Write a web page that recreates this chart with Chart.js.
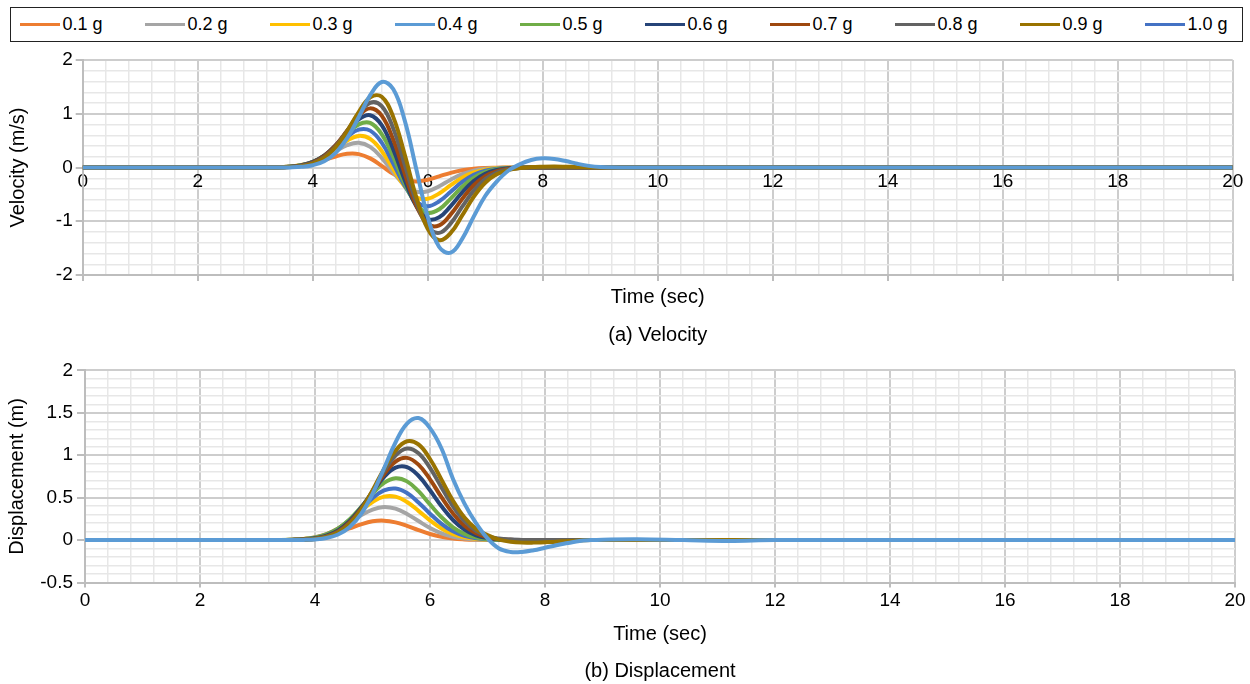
<!DOCTYPE html>
<html>
<head>
<meta charset="utf-8">
<title>Velocity and displacement</title>
<script src="https://cdn.jsdelivr.net/npm/chart.js@4.4.1/dist/chart.umd.min.js"></script>
<style>
    body { margin: 0; background: #fff; font-family: "Liberation Sans", Arial, sans-serif; }
    #page { position: relative; width: 1250px; height: 684px; overflow: hidden; }
    #legend { position: absolute; left: 10px; top: 7px; width: 1233px; height: 35px; border: 1.5px solid #222; box-sizing: border-box; }
    #legend .item { position: absolute; top: 0; height: 32px; display: flex; align-items: center; font-size: 18px; color: #000; white-space: nowrap; }
    #legend .line { display: inline-block; width: 40px; height: 3px; margin-right: 3px; }
    #velBox { position: absolute; left: 0; top: 45px; width: 1250px; height: 305px; }
    #dispBox { position: absolute; left: 0; top: 355px; width: 1250px; height: 329px; }
</style>
</head>
<body>
<div id="page">
    <div id="legend"></div>
    <div id="velBox"><canvas id="velChart"></canvas></div>
    <div id="dispBox"><canvas id="dispChart"></canvas></div>
</div>
<script>
// time axis shared by all series (sec)
const times = [0, 3.4, 3.6, 3.8, 4.0, 4.2, 4.4, 4.6, 4.8, 5.0, 5.2, 5.4, 5.6, 5.8, 6.0, 6.2, 6.4, 6.6, 6.8, 7.0,
    7.2, 7.4, 7.6, 7.8, 8.0, 8.2, 8.4, 8.6, 8.8, 9.0, 9.6, 10.4, 11.2, 12, 20];

const seriesLabels = ["0.1 g", "0.2 g", "0.3 g", "0.4 g", "0.5 g", "0.6 g", "0.7 g", "0.8 g", "0.9 g", "1.0 g"];
const seriesColors = ["#ED7D31", "#A5A5A5", "#FFC000", "#5B9BD5", "#70AD47", "#264478", "#9E480E", "#636363", "#997300", "#4472C4"];

// velocity (m/s)
const vel01 = [0, 0.005, 0.015, 0.037, 0.077, 0.137, 0.205, 0.254, 0.249, 0.170, 0.031, -0.119, -0.226, -0.260, -0.228, -0.164, -0.099, -0.051, -0.022, -0.008,
    -0.003, 0, 0, 0, 0, 0, 0, 0, 0, 0, 0, 0, 0, 0, 0];
const vel02 = [0, 0.006, 0.017, 0.044, 0.098, 0.188, 0.306, 0.416, 0.460, 0.383, 0.180, -0.088, -0.325, -0.448, -0.442, -0.348, -0.227, -0.125, -0.059, -0.024,
    -0.008, -0.003, 0, 0, 0, 0, 0, 0, 0, 0, 0, 0, 0, 0, 0];
const vel03 = [0, 0.005, 0.017, 0.045, 0.104, 0.208, 0.353, 0.503, 0.588, 0.533, 0.308, -0.026, -0.352, -0.552, -0.583, -0.483, -0.329, -0.189, -0.093, -0.039,
    -0.014, -0.005, 0, 0, 0, 0, 0, 0, 0, 0, 0, 0, 0, 0, 0];
const vel04 = [0, 0, 0.002, 0.012, 0.043, 0.116, 0.273, 0.547, 0.934, 1.345, 1.590, 1.461, 0.876, -0.022, -0.915, -1.479, -1.585, -1.327, -0.914, -0.530,
    -0.262, -0.060, 0.060, 0.140, 0.170, 0.160, 0.120, 0.070, 0.030, 0.010, 0, 0, 0, 0, 0];
const vel05 = [0, 0.004, 0.014, 0.041, 0.102, 0.219, 0.401, 0.623, 0.803, 0.830, 0.622, 0.201, -0.296, -0.683, -0.842, -0.776, -0.578, -0.360, -0.190, -0.086,
    -0.034, -0.011, -0.003, 0, 0, 0, 0, 0, 0, 0, 0, 0, 0, 0, 0];
const vel06 = [0, 0.004, 0.013, 0.039, 0.099, 0.220, 0.415, 0.667, 0.895, 0.972, 0.788, 0.341, -0.232, -0.717, -0.958, -0.927, -0.718, -0.462, -0.253, -0.118,
    -0.047, -0.016, -0.005, 0, 0, 0, 0, 0, 0, 0, 0, 0, 0, 0, 0];
const vel07 = [0, 0.003, 0.011, 0.035, 0.092, 0.210, 0.411, 0.687, 0.961, 1.100, 0.964, 0.520, -0.115, -0.705, -1.049, -1.076, -0.872, -0.585, -0.331, -0.160,
    -0.066, -0.024, -0.007, -0.002, 0, 0, 0, 0, 0, 0, 0, 0, 0, 0, 0];
const vel08 = [0, 0.003, 0.009, 0.030, 0.081, 0.192, 0.391, 0.681, 0.998, 1.205, 1.141, 0.728, 0.054, -0.637, -1.101, -1.216, -1.040, -0.729, -0.430, -0.216,
    -0.093, -0.035, -0.011, -0.003, 0, 0, 0, 0, 0, 0, 0, 0, 0, 0, 0];
const vel09 = [0, 0.002, 0.008, 0.026, 0.073, 0.178, 0.376, 0.677, 1.032, 1.306, 1.316, 0.942, 0.242, -0.547, -1.139, -1.354, -1.218, -0.891, -0.545, -0.283,
    -0.127, -0.049, -0.010, 0.008, 0.015, 0.018, 0.015, 0.010, 0.005, 0.002, 0, 0, 0, 0, 0];
const vel10 = [0, 0.005, 0.016, 0.043, 0.104, 0.217, 0.383, 0.571, 0.705, 0.686, 0.462, 0.075, -0.340, -0.631, -0.720, -0.629, -0.450, -0.269, -0.137, -0.060,
    -0.023, -0.007, -0.002, 0, 0, 0, 0, 0, 0, 0, 0, 0, 0, 0, 0];

// displacement (m)
const dsp01 = [0, 0.001, 0.004, 0.011, 0.025, 0.051, 0.089, 0.137, 0.186, 0.221, 0.229, 0.209, 0.167, 0.117, 0.072, 0.039, 0.018, 0.008, 0.003, 0.001,
    0, 0, 0, 0, 0, 0, 0, 0, 0, 0, 0, 0, 0, 0, 0];
const dsp02 = [0, 0.002, 0.005, 0.014, 0.034, 0.070, 0.129, 0.207, 0.292, 0.360, 0.390, 0.370, 0.308, 0.224, 0.143, 0.080, 0.040, 0.017, 0.006, 0.002,
    0, 0, 0, 0, 0, 0, 0, 0, 0, 0, 0, 0, 0, 0, 0];
const dsp03 = [0, 0.001, 0.005, 0.013, 0.032, 0.071, 0.137, 0.233, 0.345, 0.448, 0.512, 0.512, 0.448, 0.345, 0.233, 0.137, 0.071, 0.032, 0.013, 0.005,
    0.001, 0, 0, 0, 0, 0, 0, 0, 0, 0, 0, 0, 0, 0, 0];
const dsp04 = [0, 0, 0.001, 0.002, 0.008, 0.025, 0.066, 0.152, 0.306, 0.544, 0.844, 1.150, 1.373, 1.438, 1.320, 1.080, 0.720, 0.430, 0.200, 0.020,
    -0.100, -0.140, -0.140, -0.120, -0.090, -0.060, -0.035, -0.010, 0, 0.005, 0.010, 0, -0.010, 0, 0];
const dsp05 = [0, 0.001, 0.003, 0.010, 0.027, 0.063, 0.132, 0.242, 0.388, 0.547, 0.674, 0.729, 0.692, 0.576, 0.420, 0.269, 0.151, 0.074, 0.032, 0.012,
    0.004, 0.001, 0, 0, 0, 0, 0, 0, 0, 0, 0, 0, 0, 0, 0];
const dsp06 = [0, 0.001, 0.002, 0.007, 0.021, 0.052, 0.115, 0.223, 0.380, 0.567, 0.743, 0.853, 0.859, 0.758, 0.587, 0.398, 0.237, 0.124, 0.056, 0.023,
    0.008, 0.003, 0.001, 0, 0, 0, 0, 0, 0, 0, 0, 0, 0, 0, 0];
const dsp07 = [0, 0, 0.002, 0.006, 0.017, 0.044, 0.102, 0.207, 0.366, 0.568, 0.775, 0.925, 0.969, 0.889, 0.716, 0.505, 0.313, 0.169, 0.081, 0.034,
    0.012, 0.004, 0.001, 0, 0, 0, 0, 0, 0, 0, 0, 0, 0, 0, 0];
const dsp08 = [0, 0, 0.001, 0.005, 0.014, 0.039, 0.094, 0.195, 0.358, 0.574, 0.809, 0.997, 1.079, 1.024, 0.852, 0.621, 0.397, 0.223, 0.109, 0.047,
    0.018, 0.006, 0.002, 0, 0, 0, 0, 0, 0, 0, 0, 0, 0, 0, 0];
const dsp09 = [0, 0, 0.001, 0.004, 0.013, 0.037, 0.090, 0.191, 0.357, 0.585, 0.839, 1.055, 1.165, 1.128, 0.956, 0.712, 0.464, 0.265, 0.133, 0.058,
    0.005, -0.020, -0.030, -0.030, -0.025, -0.020, -0.010, -0.005, 0, 0, 0, 0, 0, 0, 0];
const dsp10 = [0, 0.001, 0.004, 0.011, 0.029, 0.067, 0.134, 0.236, 0.364, 0.493, 0.585, 0.608, 0.555, 0.444, 0.311, 0.191, 0.103, 0.049, 0.020, 0.007,
    0.002, 0, 0, 0, 0, 0, 0, 0, 0, 0, 0, 0, 0, 0, 0];

const velocity = [vel01, vel02, vel03, vel04, vel05, vel06, vel07, vel08, vel09, vel10];
const displacement = [dsp01, dsp02, dsp03, dsp04, dsp05, dsp06, dsp07, dsp08, dsp09, dsp10];

// which line sits on top (lower = drawn later)
const drawOrder = [9, 8, 7, 0, 5, 4, 3, 2, 1, 6];

const FONT = '"Liberation Sans", Arial, sans-serif';
Chart.defaults.font.family = FONT;
Chart.defaults.color = "#000";

const tickFont = { family: FONT, size: 19 };
const titleFont = { family: FONT, size: 20, weight: "normal" };
const axisBorder = { display: true, color: "#BDBDBD", width: 2 };

function isMultiple(v, step) {
    return Math.abs(v / step - Math.round(v / step)) < 1e-6;
}

// major lines darker, minor lines light
function gridOpts(step, tickLen) {
    const major = c => c.tick && isMultiple(c.tick.value, step);
    return {
        color: c => major(c) ? "#CDCDCD" : "#E7E7E7",
        lineWidth: c => major(c) ? 2 : 1.5,
        drawTicks: true,
        tickLength: tickLen,
        tickColor: c => major(c) ? "#BDBDBD" : "rgba(0,0,0,0)"
    };
}

function buildDatasets(series) {
    return series.map((vals, i) => ({
        label: seriesLabels[i],
        data: times.map((t, k) => ({ x: t, y: vals[k] })),
        borderColor: seriesColors[i],
        backgroundColor: seriesColors[i],
        borderWidth: 4,
        pointRadius: 0,
        tension: 0.4,
        fill: false,
        order: drawOrder[i]
    }));
}

const basePlugins = (text, bottomPad) => ({
    legend: { display: false },
    tooltip: { enabled: false },
    title: {
        display: true, text: text, position: "bottom", fullSize: false,
        color: "#000", font: titleFont, padding: { top: 0, bottom: bottomPad }
    }
});

// (a) Velocity
new Chart(document.getElementById("velChart"), {
    type: "line",
    data: { datasets: buildDatasets(velocity) },
    options: {
        responsive: true,
        maintainAspectRatio: false,
        animation: false,
        devicePixelRatio: 1,
        layout: { padding: { top: 15, right: 17.3, left: 0, bottom: 0 } },
        plugins: basePlugins("(a) Velocity", 3),
        scales: {
            x: {
                type: "linear", min: 0, max: 20,
                ticks: { display: false, stepSize: 0.4, autoSkip: false, maxRotation: 0 },
                grid: gridOpts(2, 6),
                border: axisBorder,
                title: { display: true, text: "Time (sec)", font: titleFont, color: "#000", padding: { top: 0, bottom: 14 } },
                afterFit: s => { s.height = 48; }
            },
            xz: {
                type: "linear", axis: "x", position: { y: 0 }, min: 0, max: 20,
                ticks: { stepSize: 2, autoSkip: false, maxRotation: 0, font: tickFont, color: "#000", padding: 3 },
                grid: { display: false, drawTicks: false },
                border: { display: false }
            },
            y: {
                type: "linear", min: -2, max: 2,
                ticks: {
                    stepSize: 0.2, autoSkip: false, font: tickFont, color: "#000", padding: 3,
                    callback: v => isMultiple(v, 1) ? String(Math.round(v)) : ""
                },
                grid: gridOpts(1, 7),
                border: axisBorder,
                title: { display: true, text: "Velocity (m/s)", font: titleFont, color: "#000", padding: { top: 6, bottom: 0 } },
                afterFit: s => { s.width = 82.7; }
            }
        }
    }
});

// (b) Displacement
new Chart(document.getElementById("dispChart"), {
    type: "line",
    data: { datasets: buildDatasets(displacement) },
    options: {
        responsive: true,
        maintainAspectRatio: false,
        animation: false,
        devicePixelRatio: 1,
        layout: { padding: { top: 12, right: 15, left: 0, bottom: 0 } },
        plugins: basePlugins("(b) Displacement", 1),
        scales: {
            x: {
                type: "linear", min: 0, max: 20,
                ticks: {
                    stepSize: 0.4, autoSkip: false, maxRotation: 0, font: tickFont, color: "#000", padding: 2,
                    callback: v => isMultiple(v, 2) ? String(Math.round(v)) : ""
                },
                grid: gridOpts(2, 5),
                border: axisBorder,
                title: { display: true, text: "Time (sec)", font: titleFont, color: "#000", padding: { top: 0, bottom: 13 } },
                afterFit: s => { s.height = 76.5; }
            },
            y: {
                type: "linear", min: -0.5, max: 2,
                ticks: {
                    stepSize: 0.1, autoSkip: false, font: tickFont, color: "#000", padding: 4,
                    callback: v => isMultiple(v, 0.5) ? String(Math.round(v * 10) / 10) : ""
                },
                grid: gridOpts(0.5, 8),
                border: axisBorder,
                title: { display: true, text: "Displacement (m)", font: titleFont, color: "#000", padding: { top: 5, bottom: 0 } },
                afterFit: s => { s.width = 85; }
            }
        }
    }
});

// Legend box on top of both charts
const legendEl = document.getElementById("legend");
seriesLabels.forEach((name, i) => {
    const item = document.createElement("div");
    item.className = "item";
    item.style.left = (8.5 + i * 125) + "px";
    item.innerHTML = `<span class="line" style="background:${seriesColors[i]}"></span>${name}`;
    legendEl.appendChild(item);
});
</script>
</body>
</html>
